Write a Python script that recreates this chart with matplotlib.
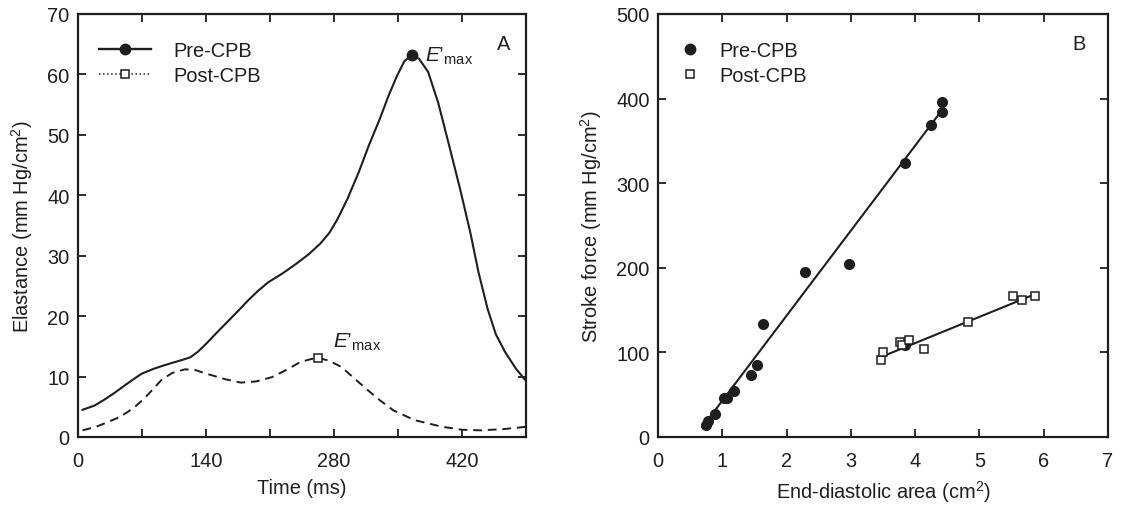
import numpy as np
import matplotlib
matplotlib.use('Agg')
from matplotlib import pyplot as plt
from matplotlib.lines import Line2D

INK = '#1e1e1e'

# Panel A: elastance curves (time in ms, elastance in mm Hg/cm2)
pre_t = [5, 18, 28, 39, 49, 60, 70, 83, 95, 106, 115, 123, 131, 140, 152,
         165, 176, 186, 197, 208, 224, 239, 252, 265, 275, 284, 295, 307,
         318, 330, 340, 349, 357, 365, 373, 383, 394, 406, 418, 429, 438,
         448, 457, 467, 479, 491]
pre_e = [4.5, 5.2, 6.1, 7.2, 8.3, 9.5, 10.5, 11.3, 11.9, 12.4, 12.8, 13.2,
         14.1, 15.4, 17.3, 19.3, 21.0, 22.6, 24.2, 25.6, 27.1, 28.7, 30.2,
         32.0, 33.8, 36.1, 39.5, 43.8, 48.2, 52.6, 56.6, 59.8, 62.2, 63.2,
         62.6, 60.4, 55.3, 48.2, 41.0, 33.9, 27.3, 21.2, 17.0, 14.1, 11.3,
         9.1]
post_t = [5, 20, 33, 44, 54, 63, 72, 82, 91, 103, 117, 128, 140, 160, 178,
          195, 212, 228, 243, 255, 263, 275, 288, 300, 315, 330, 345, 368,
          398, 420, 440, 465, 491]
post_e = [1.1, 1.7, 2.5, 3.2, 4.1, 5.1, 6.3, 7.9, 9.4, 10.6, 11.2, 11.1,
          10.5, 9.6, 9.0, 9.2, 9.9, 11.1, 12.4, 12.9, 13.1, 12.6, 11.6, 10.0,
          8.0, 6.1, 4.4, 2.8, 1.7, 1.2, 1.1, 1.3, 1.7]
pre_peak = (365, 63.2)
post_peak = (263, 13.1)

# Panel B: stroke force vs end-diastolic area
pre_area = [0.75, 0.77, 0.88, 1.03, 1.07, 1.18, 1.44, 1.54, 1.63, 2.29,
            2.97, 3.84, 4.25, 4.42, 4.42, 3.84]
pre_force = [14.6, 18.5, 27.6, 46.1, 46.1, 53.9, 72.8, 84.6, 133.9, 194.9,
             204.7, 323.6, 368.9, 383.9, 395.7, 108.3]
post_area = [3.47, 3.50, 3.77, 3.80, 3.91, 4.14, 4.82, 5.52, 5.66, 5.87]
post_force = [91.3, 100.4, 112.2, 109.0, 115.0, 104.3, 135.8, 166.1, 161.4,
              166.1]
# regression lines: slope, intercept, x range
pre_fit = (100.5, -57.6, 0.69, 4.42)
post_fit = (31.0, -13.0, 3.47, 5.88)

matplotlib.rcParams.update({
    'font.family': ['Liberation Sans', 'DejaVu Sans'],
    'font.size': 14.4,
    'mathtext.fontset': 'custom',
    'mathtext.rm': 'Liberation Sans',
    'mathtext.it': 'Liberation Sans:italic',
    'text.color': INK,
    'axes.labelcolor': INK,
    'axes.edgecolor': INK,
    'xtick.color': INK,
    'ytick.color': INK,
    'axes.linewidth': 1.6,
})

fig = plt.figure(figsize=(11.21, 5.06), dpi=100)
axA = fig.add_axes([78 / 1121, 68 / 506, 448 / 1121, 423 / 506])
axB = fig.add_axes([658 / 1121, 68 / 506, 450 / 1121, 423 / 506])

for ax in (axA, axB):
    ax.tick_params(direction='in', top=True, right=True, length=6,
                   width=1.3, labelsize=14.4)
    ax.tick_params(axis='x', pad=10)
    ax.tick_params(axis='y', pad=6)

# ---- Panel A
axA.plot(pre_t, pre_e, color=INK, lw=1.5, solid_joinstyle='round')
axA.plot(post_t, post_e, color=INK, lw=1.4, linestyle=(0, (4.5, 3)))
axA.plot(*pre_peak, marker='o', ms=7.5, color=INK)
axA.plot(*post_peak, marker='s', ms=5.5, mfc='white', mec=INK, mew=1.1)
axA.text(380, 62.3, '$E\u2019_{\\mathrm{max}}$', fontsize=15, ha='left',
         va='baseline')
axA.text(278.6, 14.9, '$E\u2019_{\\mathrm{max}}$', fontsize=15, ha='left',
         va='baseline')
axA.text(465, 64.2, 'A', ha='center', va='baseline')

handles = [
    Line2D([], [], color=INK, lw=1.7, marker='o', ms=7.5),
    Line2D([], [], color=INK, lw=1.1, linestyle=':', marker='s', ms=5.5,
           mfc='white', mec=INK, mew=1.1),
]
axA.legend(handles, ['Pre-CPB', 'Post-CPB'], loc='upper left',
           bbox_to_anchor=(0.03, 0.955), frameon=False, handlelength=2.6,
           handletextpad=1.1, labelspacing=0.3, borderaxespad=0)

axA.set_xlim(0, 490)
axA.set_ylim(0, 70)
axA.set_xticks(range(0, 491, 70))
axA.set_xticklabels([str(v) if v % 140 == 0 else '' for v in range(0, 491, 70)])
axA.set_yticks(range(0, 71, 10))
axA.set_xlabel('Time (ms)', labelpad=6)
axA.set_ylabel('Elastance (mm Hg/cm$^2$)', labelpad=9)

# ---- Panel B
for slope, icpt, x0, x1 in (pre_fit, post_fit):
    xs = np.array([x0, x1])
    axB.plot(xs, slope * xs + icpt, color=INK, lw=1.5)
axB.plot(pre_area, pre_force, 'o', ms=7, color=INK, mec=INK)
axB.plot(post_area, post_force, 's', ms=5.5, mfc='white', mec=INK, mew=1.1)
axB.text(6.55, 458.7, 'B', ha='center', va='baseline')

handlesB = [
    Line2D([], [], linestyle='none', marker='o', ms=7.5, color=INK),
    Line2D([], [], linestyle='none', marker='s', ms=5.5, mfc='white',
           mec=INK, mew=1.1),
]
axB.legend(handlesB, ['Pre-CPB', 'Post-CPB'], loc='upper left',
           bbox_to_anchor=(0.03, 0.955), frameon=False, handlelength=1.0,
           handletextpad=1.0, labelspacing=0.3, borderaxespad=0)

axB.set_xlim(0, 7)
axB.set_ylim(0, 500)
axB.set_xticks(range(0, 8))
axB.set_yticks(range(0, 501, 100))
axB.set_xlabel('End-diastolic area (cm$^2$)', labelpad=6)
axB.set_ylabel('Stroke force (mm Hg/cm$^2$)', labelpad=9)

fig.savefig('out.png', dpi=100)
